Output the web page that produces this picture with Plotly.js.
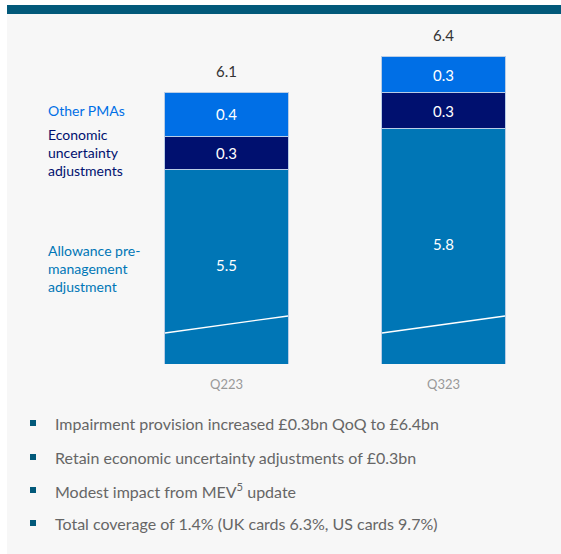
<!DOCTYPE html>
<html>
<head>
<meta charset="utf-8">
<script src="https://cdn.plot.ly/plotly-3.0.1.min.js"></script>
<style>
  html, body { margin: 0; padding: 0; background: #ffffff; }
  #wrap { position: relative; width: 561px; height: 554px; overflow: hidden; }
  #panel { position: absolute; left: 7px; top: 14px; width: 554px; height: 540px; background: #f7f7f7; }
  #band { position: absolute; left: 7px; top: 5px; width: 554px; height: 9px; background: #02597a; }
  #chart { position: absolute; left: 0; top: 0; width: 561px; height: 554px; }
</style>
</head>
<body>
<div id="wrap">
  <div id="panel"></div>
  <div id="band"></div>
  <div id="chart"></div>
</div>
<script>
// ---- data (segment values estimated; labels are the rounded values shown) ----
const quarters = ['Q223', 'Q323'];
const allowance = [5.46, 5.8];
const economic = [0.28, 0.3];
const otherPMAs = [0.36, 0.3];
const totals = [6.1, 6.4];
const seriesNames = ['Other PMAs', 'Economic<br>uncertainty<br>adjustments', 'Allowance pre-<br>management<br>adjustment'];
const bullets = [
  'Impairment provision increased £0.3bn QoQ to £6.4bn',
  'Retain economic uncertainty adjustments of £0.3bn',
  'Modest impact from MEV<sup>5</sup> update',
  'Total coverage of 1.4% (UK cards 6.3%, US cards 9.7%)'
];

// ---- layout helpers ----
const W = 561, H = 554;
const L = 118, R = 9, T = 20, B = 190;
const pw = W - L - R, ph = H - T - B;
const px = p => (p - L) / pw;
const py = p => (H - B - p) / ph;
const yMin = 3.84, yMax = 3.84 + 344 / 120;

const cBase = '#0076b6', cNavy = '#00106f', cBright = '#006fe6';
const font = 'Lato, "Open Sans", sans-serif';
const outline = { color: '#b9cde6', width: 1 };
const white = { color: '#ffffff', size: 15, family: font };

const traces = [
  { type: 'bar', x: quarters, y: allowance, name: 'Allowance', marker: { color: cBase, line: outline },
    textposition: 'none', hoverinfo: 'skip' },
  { type: 'bar', x: quarters, y: economic, name: 'Economic', marker: { color: cNavy, line: outline },
    text: economic.map(v => v.toFixed(1)), textposition: 'inside', insidetextanchor: 'middle',
    textfont: white, hoverinfo: 'skip' },
  { type: 'bar', x: quarters, y: otherPMAs, name: 'Other', marker: { color: cBright, line: outline },
    text: otherPMAs.map(v => v.toFixed(1)), textposition: 'inside', insidetextanchor: 'middle',
    textfont: white, hoverinfo: 'skip' },
  // label of the base segment, centred in its visible part
  { type: 'scatter', mode: 'text', x: quarters, y: allowance.map(v => (yMin + v) / 2),
    text: allowance.map(v => v.toFixed(1)), textposition: 'middle center', textfont: white,
    hoverinfo: 'skip', cliponaxis: false }
];

const annotations = [];
quarters.forEach((q, i) => {
  annotations.push({ x: q, y: totals[i], xref: 'x', yref: 'y', text: totals[i].toFixed(1),
    showarrow: false, yanchor: 'bottom', yshift: 11, font: { size: 15, color: '#333333', family: font } });
});
// series labels at left
const labelColors = [cBright, cNavy, cBase];
const labelY = [110, 152, 268];
seriesNames.forEach((n, i) => {
  annotations.push({ x: px(46), y: py(labelY[i]), xref: 'paper', yref: 'paper', text: n, align: 'left',
    xanchor: 'left', yanchor: 'middle', showarrow: false, font: { size: 14, color: labelColors[i], family: font } });
});
// bullets
const bulletY = [423, 457, 490, 523];
const shapes = [];
bullets.forEach((b, i) => {
  annotations.push({ x: px(53), y: py(bulletY[i]), xref: 'paper', yref: 'paper', text: b,
    xanchor: 'left', yanchor: 'middle', showarrow: false, font: { size: 16, color: '#666666', family: font } });
  shapes.push({ type: 'rect', xref: 'paper', yref: 'paper', x0: px(30), x1: px(36),
    y0: py(bulletY[i] - 3), y1: py(bulletY[i] + 3), fillcolor: '#02597a', line: { width: 0 } });
});
// axis-break diagonal lines inside the base bars
const halfW = 0.2835;
quarters.forEach((q, i) => {
  shapes.push({ type: 'line', xref: 'x', yref: 'paper', x0: i - halfW, x1: i + halfW,
    y0: py(333), y1: py(316), line: { color: '#ffffff', width: 1.3 } });
});

const layout = {
  width: W, height: H,
  margin: { l: L, r: R, t: T, b: B, pad: 0 },
  paper_bgcolor: 'rgba(0,0,0,0)', plot_bgcolor: 'rgba(0,0,0,0)',
  barmode: 'stack', bargap: 0.433,
  showlegend: false,
  xaxis: { type: 'category', range: [-0.5, 1.5], showgrid: false, zeroline: false, showline: false,
    ticks: '', ticklabelstandoff: 11, tickfont: { size: 13, color: '#999999', family: font }, fixedrange: true },
  yaxis: { range: [yMin, yMax], visible: false, fixedrange: true },
  annotations: annotations,
  shapes: shapes,
  font: { family: font }
};

Plotly.newPlot('chart', traces, layout, { displayModeBar: false, staticPlot: true });
</script>
</body>
</html>
